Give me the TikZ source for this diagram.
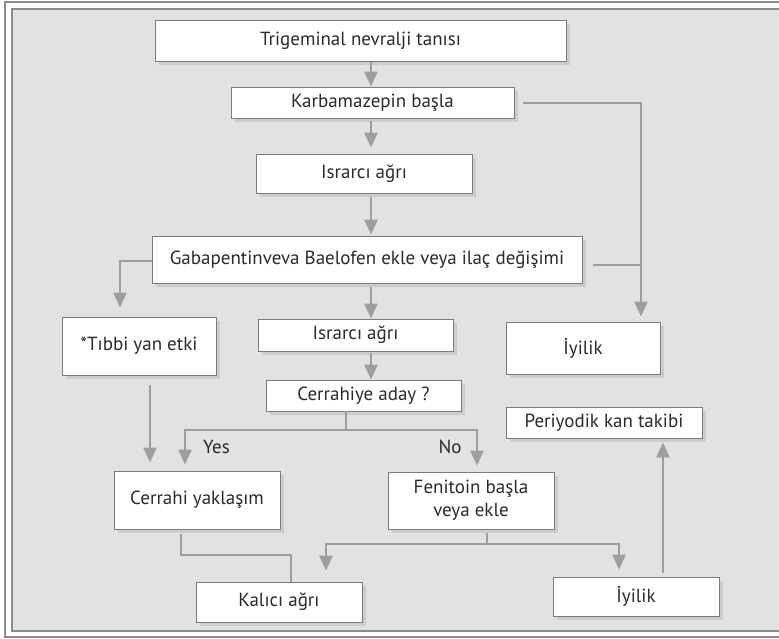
\documentclass[tikz,border=0pt]{standalone}
\usepackage{fontspec}
\setmainfont{PT Sans}
\usetikzlibrary{arrows.meta,shadows,calc}
\definecolor{panel}{HTML}{E1E2E4}
\definecolor{frameline}{HTML}{8C8C8C}
\definecolor{boxline}{HTML}{7C7C7C}
\definecolor{shadowc}{HTML}{CBCCCE}
\definecolor{wirec}{HTML}{9D9EA0}
\definecolor{ink}{HTML}{2B2B2B}
\tikzset{
  stepbox/.style={draw=boxline, line width=0.9pt, fill=white, inner sep=0pt,
    text=ink, font=\fontsize{19}{23}\selectfont, align=center,
    drop shadow={shadow xshift=4pt, shadow yshift=-4pt, fill=shadowc, opacity=1}},
  lbl/.style={text=ink, font=\fontsize{19}{23}\selectfont, inner sep=0pt},
  wire/.style={draw=wirec, line width=2.6pt, line join=miter},
  tip/.style={wire, -{Triangle[length=15pt,width=13pt]}},
}
\begin{document}
\begin{tikzpicture}[x=1pt,y=-1pt]
\useasboundingbox (0,0) rectangle (779,638);
% double frame and panel
\fill[panel] (12,9) rectangle (800,631);
\draw[frameline, line width=1.2pt] (800,2) -- (5,2) -- (5,637) -- (800,637);
\draw[frameline, line width=1.2pt] (800,9) -- (12,9) -- (12,631) -- (800,631);

% boxes
\node[stepbox, minimum width=411, minimum height=41] (trig) at (360.5,40.5) {Trigeminal nevralji tanısı};
\node[stepbox, minimum width=283, minimum height=31] (karb) at (372.5,102.5) {Karbamazepin başla};
\node[stepbox, minimum width=216, minimum height=39] (isr1) at (364,173.5) {Israrcı ağrı};
\node[stepbox, minimum width=430, minimum height=47] (gaba) at (367,259.5) {Gabapentinveva Baelofen ekle veya ilaç değişimi};
\node[stepbox, minimum width=154, minimum height=58] (tibbi) at (139,346) {*Tıbbi yan etki};
\node[stepbox, minimum width=195, minimum height=32] (isr2) at (355.5,335) {Israrcı ağrı};
\node[stepbox, minimum width=195, minimum height=31] (cerr) at (363.5,395.5) {Cerrahiye aday ?};
\node[stepbox, minimum width=154, minimum height=52] (iyi1) at (583,348) {İyilik};
\node[stepbox, minimum width=196, minimum height=31] (peri) at (604,422.5) {Periyodik kan takibi};
\node[stepbox, minimum width=166, minimum height=57] (fen) at (471,500.5) {Fenitoin başla\\veya ekle};
\node[stepbox, minimum width=166, minimum height=39] (iyi2) at (636,596.5) {İyilik};
\node[stepbox, minimum width=166, minimum height=58] (cyak) at (197,500) {Cerrahi yaklaşım};
\node[stepbox, minimum width=166, minimum height=40] (kal) at (279,602) {Kalıcı ağrı};

% branch labels
\node[lbl] (yes) at (216.5,447) {Yes};
\node[lbl] (no) at (450,447) {No};

% bus positions
\coordinate (spine) at (371,0);
\coordinate (rbus) at (641,0);
\coordinate (lbus) at (120,0);
\coordinate (split) at (346,430);
\coordinate (yesx) at (185,0);
\coordinate (nox) at (477,0);
\coordinate (tx) at (150,0);
\coordinate (c1x) at (181,0);
\coordinate (c2x) at (291,0);
\coordinate (cky) at (0,555);
\coordinate (fsplit) at (487,544);
\coordinate (k2x) at (326,0);
\coordinate (i2x) at (619,0);
\coordinate (px) at (663,0);

% main column
\draw[tip, shorten <=1pt] (trig.south -| spine) -- (karb.north -| spine);
\draw[tip, shorten <=3pt, shorten >=6pt] (karb.south -| spine) -- (isr1.north -| spine);
\draw[tip, shorten <=4pt, shorten >=1pt] (isr1.south -| spine) -- (gaba.north -| spine);
\draw[tip, shorten <=4pt, shorten >=0pt] (gaba.south -| spine) -- (isr2.north -| spine);
\draw[tip, shorten <=2pt, shorten >=0pt] (isr2.south -| spine) -- (cerr.north -| spine);

% right bus to İyilik
\draw[tip, shorten >=5pt] ($(karb.east)+(9,0.5)$) -- ($(karb.east -| rbus)+(0,0.5)$) -- (iyi1.north -| rbus);
\draw[wire] ($(gaba.east)+(11,5.5)$) coordinate (g1) -- (g1 -| rbus);

% left branch to side effects
\draw[tip, shorten >=9pt] ($(gaba.west)+(0,1.5)$) coordinate (g2) -- (g2 -| lbus) -- (tibbi.north -| lbus);

% surgery decision
\draw[wire] (cerr.south -| split) -- (split);
\draw[tip, shorten >=6pt] (split) -| (cyak.north -| yesx);
\draw[tip, shorten >=6pt] (split) -| (fen.north -| nox);
\draw[tip, shorten <=10pt, shorten >=8pt] (tibbi.south -| tx) -- (cyak.north -| tx);

% outcomes
\draw[wire, shorten <=5pt] (cyak.south -| c1x) |- (cky -| c2x) -- (kal.north -| c2x);
\draw[wire, shorten <=4pt] (fen.south -| fsplit) -- (fsplit);
\draw[tip, shorten >=11pt] (fsplit) -| (kal.north -| k2x);
\draw[tip, shorten >=7pt] (fsplit) -| (iyi2.north -| i2x);
\draw[tip, shorten <=4pt, shorten >=4pt] (iyi2.north -| px) -- (peri.south -| px);
\end{tikzpicture}
\end{document}
